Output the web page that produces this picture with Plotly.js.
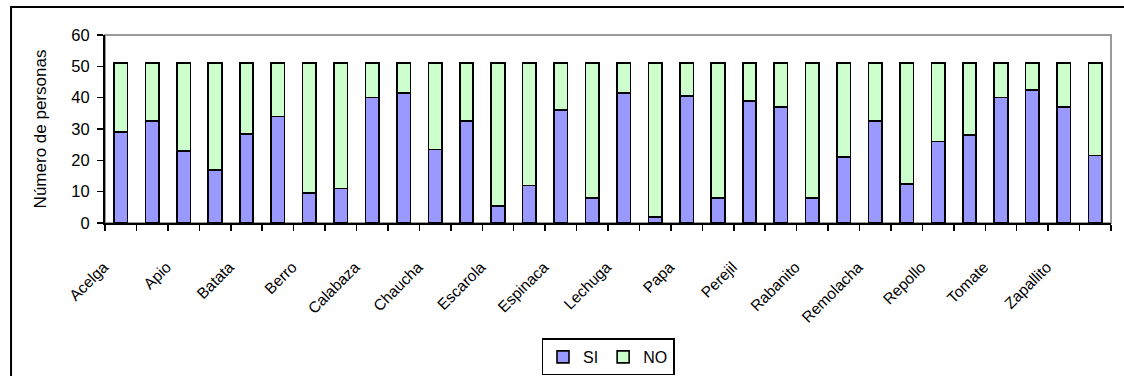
<!DOCTYPE html>
<html>
<head>
<meta charset="utf-8">
<script src="https://cdn.plot.ly/plotly-3.0.1.min.js"></script>
<style>
  html, body { margin: 0; padding: 0; background: #ffffff; }
  #chart { width: 1124px; height: 376px; }
</style>
</head>
<body>
<div id="chart"></div>
<script>
// Hortalizas encuestadas (orden alfabético); se rotula una de cada dos.
const categories = [
  'Acelga', 'Ajo', 'Apio', 'Arveja', 'Batata', 'Berenjena', 'Berro', 'Brócoli',
  'Calabaza', 'Cebolla', 'Chaucha', 'Choclo', 'Escarola', 'Espárrago', 'Espinaca', 'Haba',
  'Lechuga', 'Morrón', 'Papa', 'Pepino', 'Perejil', 'Puerro', 'Rabanito', 'Radicheta',
  'Remolacha', 'Repollito', 'Repollo', 'Rúcula', 'Tomate', 'Zanahoria', 'Zapallito', 'Zapallo'
];

// Respuestas "SI" por hortaliza
const siValues = [
  29, 32.5, 23, 17, 28.5, 34, 9.5, 11,
  40, 41.5, 23.5, 32.5, 5.5, 12, 36, 8,
  41.5, 2, 40.5, 8, 39, 37, 8, 21,
  32.5, 12.5, 26, 28, 40, 42.5, 37, 21.5
];

// Respuestas "NO" por hortaliza
const noValues = [
  22, 18.5, 28, 34, 22.5, 17, 41.5, 40,
  11, 9.5, 27.5, 18.5, 45.5, 39, 15, 43,
  9.5, 49, 10.5, 43, 12, 14, 43, 30,
  18.5, 38.5, 25, 23, 11, 8.5, 14, 29.5
];

const seriesNames = ['SI', 'NO'];
const yTickValues = [0, 10, 20, 30, 40, 50, 60];
const yAxisTitle = 'Número de personas';

// Etiquetas del eje X: sólo una categoría de cada dos lleva texto
const xTickText = categories.map((c, i) => (i % 2 === 0 ? c : ''));

const FONT = 'Arial, "Liberation Sans", sans-serif';
const outline = { color: '#000000', width: 1.6 };

const traces = [
  {
    type: 'bar',
    name: seriesNames[0],
    x: categories,
    y: siValues,
    marker: { color: '#9999ff', line: outline },
    hoverinfo: 'x+y+name'
  },
  {
    type: 'bar',
    name: seriesNames[1],
    x: categories,
    y: noValues,
    marker: { color: '#ccffcc', line: outline },
    hoverinfo: 'x+y+name'
  }
];

const layout = {
  width: 1124,
  height: 376,
  margin: { l: 105, r: 13, t: 35, b: 153, pad: 0, autoexpand: false },
  paper_bgcolor: '#ffffff',
  plot_bgcolor: '#ffffff',
  barmode: 'stack',
  bargap: 0.57,
  font: { family: FONT, color: '#000000', size: 16 },
  showlegend: true,
  legend: {
    orientation: 'h',
    traceorder: 'normal',
    x: 0.5,
    xanchor: 'center',
    y: -0.614,
    yanchor: 'top',
    bordercolor: '#000000',
    borderwidth: 1.5,
    bgcolor: '#ffffff',
    font: { family: FONT, size: 16, color: '#000000' },
    itemwidth: 30,
    tracegroupgap: 0
  },
  xaxis: {
    type: 'category',
    categoryorder: 'array',
    categoryarray: categories,
    range: [-0.5, categories.length - 0.5],
    tickmode: 'array',
    tickvals: categories,
    ticktext: xTickText,
    tickson: 'boundaries',
    ticks: 'outside',
    ticklen: 6,
    tickwidth: 1.5,
    tickcolor: '#000000',
    tickangle: -45,
    ticklabelshift: -17,
    ticklabelstandoff: 27,
    tickfont: { family: FONT, size: 15.5, color: '#000000' },
    showline: true,
    linecolor: '#000000',
    linewidth: 2,
    showgrid: false,
    zeroline: false,
    automargin: false,
    fixedrange: true
  },
  yaxis: {
    range: [0, 60],
    tickmode: 'array',
    tickvals: yTickValues,
    ticks: 'outside',
    ticklen: 6,
    tickwidth: 1.5,
    tickcolor: '#000000',
    tickfont: { family: FONT, size: 16.5, color: '#000000' },
    ticklabelstandoff: 4,
    showline: true,
    linecolor: '#000000',
    linewidth: 2,
    showgrid: false,
    zeroline: false,
    automargin: false,
    fixedrange: true,
    title: {
      text: yAxisTitle,
      font: { family: FONT, size: 17, color: '#000000' },
      standoff: 20
    }
  },
  shapes: [
    // Marco gris del área de trazado (lados superior y derecho visibles)
    {
      type: 'rect', xref: 'paper', yref: 'paper',
      x0: 0, x1: 1, y0: 0, y1: 1,
      line: { color: '#9a9a9a', width: 2 },
      layer: 'below'
    },
    // Borde negro exterior del gráfico
    {
      type: 'rect', xref: 'paper', yref: 'paper',
      x0: -0.0934, x1: 1.05, y0: -1.0, y1: 1.1487,
      line: { color: '#000000', width: 2 },
      fillcolor: 'rgba(0,0,0,0)',
      layer: 'above'
    }
  ]
};

Plotly.newPlot('chart', traces, layout, { displayModeBar: false, staticPlot: true });
</script>
</body>
</html>
